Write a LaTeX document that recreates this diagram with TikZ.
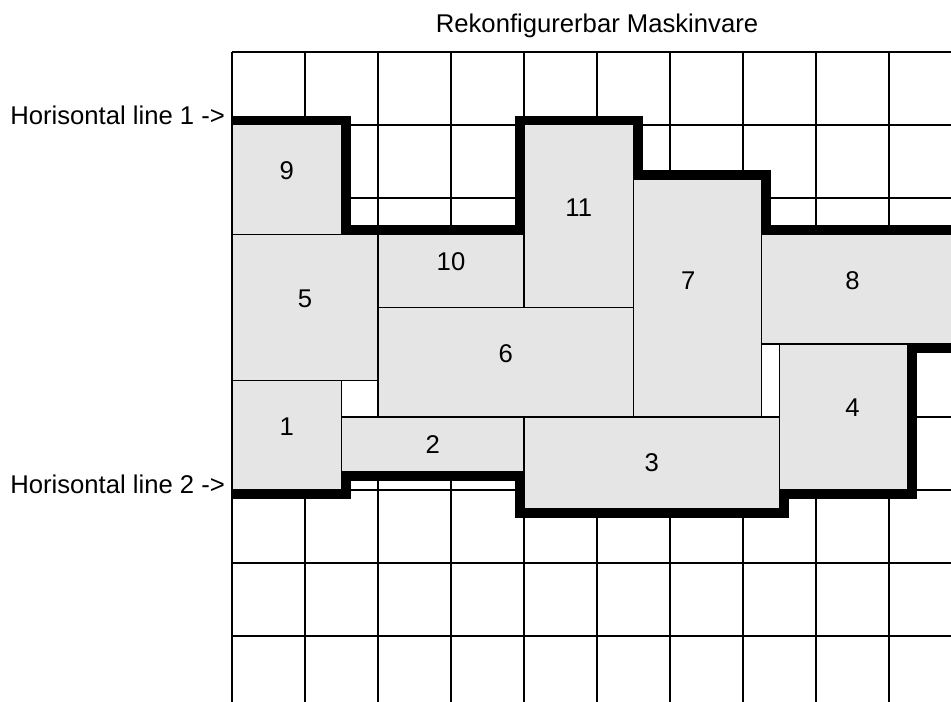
\documentclass[tikz,border=0pt]{standalone}
\usepackage{fontspec}
\setmainfont{Liberation Sans}
\usepackage{tikz}

\begin{document}
\begin{tikzpicture}[
  gridline/.style={line width=0.5pt},
  blk/.style={draw=black, line width=0.4pt, fill=black!10},
  edgeline/.style={line width=7.3pt, line join=miter},
  num/.style={anchor=base, inner sep=0pt, font=\fontsize{10}{12}\selectfont},
  lbl/.style={inner sep=0pt, font=\fontsize{10}{12}\selectfont},
]
\clip (-3.178,0.712) rectangle (9.849,-8.904);
% --- grid ---
\foreach \c in {0,...,10} \draw[gridline] (\c,0) -- (\c,-9.5);
\foreach \r in {0,...,9} \draw[gridline] (0,-\r) -- (10.5,-\r);
% --- horizontal lines ---
\draw[edgeline] (0,-1) -- (1.5,-1) -- (1.5,-2.5) -- (4,-2.5) -- (4,-1) -- (5.5,-1)
  -- (5.5,-1.75) -- (7.25,-1.75) -- (7.25,-2.5) -- (10.5,-2.5);
\draw[edgeline] (10.5,-4) -- (9.25,-4) -- (9.25,-6) -- (7.5,-6) -- (7.5,-6.25)
  -- (4,-6.25) -- (4,-5.75) -- (1.5,-5.75) -- (1.5,-6) -- (0,-6);
% --- blocks ---
\foreach \n/\xa/\ya/\xb/\yb/\tx/\ty in {
  1/0/4.5/1.5/6/0.75/5.25,
  2/1.5/5/4/5.75/2.75/5.5,
  3/4/5/7.5/6.25/5.75/5.75,
  4/7.5/4/9.25/6/8.5/5,
  5/0/2.5/2/4.5/1/3.5,
  6/2/3.5/5.5/5/3.75/4.25,
  7/5.5/1.75/7.25/5/6.25/3.25,
  8/7.25/2.5/10.5/4/8.5/3.25,
  9/0/1/1.5/2.5/0.75/1.75,
  10/2/2.5/4/3.5/3/3,
  11/4/1/5.5/3.5/4.75/2.25} {
  \draw[blk] (\xa,-\ya) rectangle (\xb,-\yb);
  \node[num] (b\n) at (\tx,-\ty) {\n};
}
% --- labels ---
\node[lbl, anchor=base] (title) at (5,0.26) {Rekonfigurerbar Maskinvare};
\node[lbl, anchor=base east] (line1) at (-0.09,-1) {Horisontal line 1 ->};
\node[lbl, anchor=base east] (line2) at (-0.09,-6.05) {Horisontal line 2 ->};
\end{tikzpicture}
\end{document}
